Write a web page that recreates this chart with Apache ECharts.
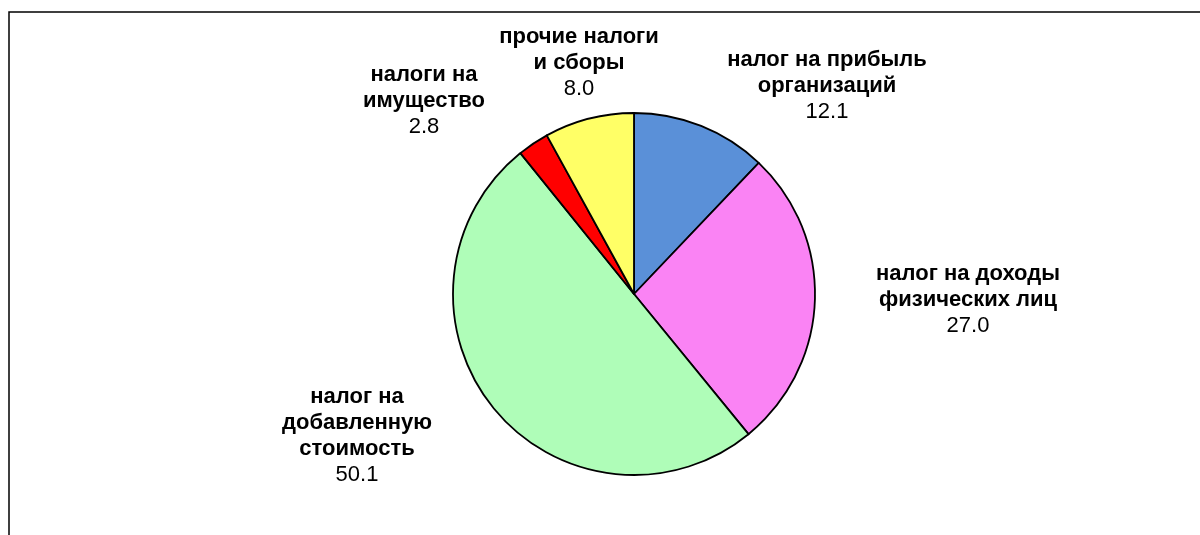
<!DOCTYPE html>
<html>
<head>
<meta charset="utf-8">
<script src="https://cdn.jsdelivr.net/npm/echarts@6/dist/echarts.min.js"></script>
<style>html,body{margin:0;padding:0;background:#fff;}#c{width:1200px;height:535px;}</style>
</head>
<body>
<div id="c"></div>
<script>
const categories = ["налог на прибыль\nорганизаций", "налог на доходы\nфизических лиц", "налог на\nдобавленную\nстоимость", "налоги на\nимущество", "прочие налоги\nи сборы"];
const values = [12.1, 27.0, 50.1, 2.8, 8.0];
const colors = ["#5A90D8", "#FA83F4", "#AFFDB8", "#FF0000", "#FFFF66"];
const labelPos = [[827, 86], [968, 300], [357, 436], [424, 101], [579, 63]];

const chart = echarts.init(document.getElementById('c'), null, {renderer: 'canvas'});
chart.setOption({
  animation: false,
  backgroundColor: '#fff',
  graphic: [{
    type: 'rect', shape: {x: 9, y: 12, width: 1400, height: 700},
    style: {fill: 'none', stroke: '#000', lineWidth: 1.5}, silent: true
  }],
  series: [{
    type: 'pie',
    center: [634, 294],
    radius: [0, 181],
    startAngle: 90,
    clockwise: true,
    avoidLabelOverlap: false,
    data: categories.map((c, i) => ({name: c, value: values[i], itemStyle: {color: colors[i]}})),
    itemStyle: {borderColor: '#000', borderWidth: 1.8},
    labelLine: {show: false},
    label: {
      show: true,
      position: 'outside',
      formatter: p => '{b|' + p.name + '}\n{v|' + p.value.toFixed(1) + '}',
      rich: {
        b: {fontFamily: 'Liberation Sans, Arial', fontWeight: 'bold', fontSize: 22, lineHeight: 26, color: '#000', align: 'center'},
        v: {fontFamily: 'Liberation Sans, Arial', fontSize: 22, lineHeight: 26, color: '#000', align: 'center'}
      }
    },
    labelLayout: p => ({x: labelPos[p.dataIndex][0], y: labelPos[p.dataIndex][1], align: 'center', verticalAlign: 'middle'})
  }]
});
</script>
</body>
</html>
